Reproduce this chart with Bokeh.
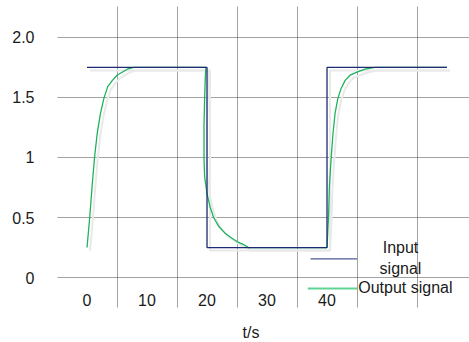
from bokeh.plotting import figure
from bokeh.models import Range1d, FixedTicker, Title
from bokeh.core.properties import value
from bokeh.embed import file_html
from bokeh.resources import INLINE

# ---- data ----
in_t = [0, 20, 20, 40, 40, 60]
in_v = [1.75, 1.75, 0.25, 0.25, 1.75, 1.75]

out_t = [0, 0.45, 0.85, 1.25, 1.7, 2.25, 2.8, 3.45, 4.2, 5.0, 5.85, 6.7, 7.8,
         19.8, 19.7, 19.6, 19.5, 19.5, 19.6, 20.0, 20.5, 21.1, 21.9, 23.0, 24.1, 25.0, 26.1, 26.9,
         40.0, 40.25, 40.4, 40.7, 41.0, 41.35, 41.8, 42.35, 43.0, 43.85, 45.0, 46.35, 48.0, 60]
out_v = [0.25, 0.5, 0.76, 1.0, 1.2, 1.37, 1.49, 1.59, 1.64, 1.685, 1.71, 1.735, 1.75,
         1.75, 1.64, 1.49, 1.26, 1.0, 0.84, 0.70, 0.59, 0.5, 0.43, 0.37, 0.33, 0.30, 0.275, 0.25,
         0.25, 0.5, 0.76, 1.0, 1.2, 1.37, 1.49, 1.575, 1.64, 1.685, 1.71, 1.735, 1.75, 1.75]

x_tick_values = [0, 10, 20, 30, 40]
x_tick_labels = ["0", "10", "20", "30", "40"]
x_grid_values = [5, 15, 25, 35, 45, 55]
y_tick_values = [0, 0.5, 1, 1.5, 2]
y_tick_labels = ["0", "0.5", "1", "1.5", "2.0"]

series_names = ["Input\nsignal", "Output signal"]
x_label = "t/s"

FONT = "Liberation Sans"
NAVY = "#1c2b72"
GREEN = "#1cb35a"
SHADOW = "#e9e9e9"

p = figure(width=469, height=342, output_backend="svg", toolbar_location=None,
           x_range=Range1d(-4.92, 63.75), y_range=Range1d(-0.249, 2.257),
           min_border_left=57, min_border_right=0, min_border_top=6, min_border_bottom=34,
           x_axis_location=None)
p.outline_line_color = None
p.background_fill_color = "white"
p.border_fill_color = "white"

# grid
p.xgrid.ticker = FixedTicker(ticks=x_grid_values)
p.ygrid.ticker = FixedTicker(ticks=y_tick_values)
for g in (p.xgrid, p.ygrid):
    g.grid_line_color = "#444444"
    g.grid_line_dash = "1 1"
    g.grid_line_width = 1

# y axis
ya = p.yaxis[0]
ya.ticker = FixedTicker(ticks=y_tick_values)
ya.major_label_overrides = {v: l for v, l in zip(y_tick_values, y_tick_labels)}
ya.axis_line_color = None
ya.major_tick_line_color = None
ya.minor_tick_line_color = None
ya.major_label_standoff = 17
ya.major_label_text_font = FONT
ya.major_label_text_font_size = "16px"
ya.major_label_text_color = "#1a1a1a"

# shadows
p.line([t + 0.5 for t in out_t], [v - 0.025 for v in out_v], line_color=SHADOW, line_width=2)
p.line([t + 0.5 for t in in_t], [v - 0.025 for v in in_v], line_color=SHADOW, line_width=2)

# series
p.line(out_t, out_v, line_color=GREEN, line_width=1.3)
p.line(in_t, in_v, line_color=NAVY, line_width=1.3)

# x tick labels inside the grid area
p.text(x=x_tick_values, y=[-0.19] * len(x_tick_values), text=x_tick_labels,
       text_font=value(FONT), text_font_size="16px", text_color="#1a1a1a",
       text_align="center", text_baseline="middle")

# legend (manual)
p.segment(x0=[37.25], y0=[0.155], x1=[45.0], y1=[0.155], line_color="#4c5c94", line_width=1.3)
p.segment(x0=[36.8], y0=[-0.091], x1=[45.0], y1=[-0.091], line_color="#5ed394", line_width=2)
p.text(x=[52.25], y=[0.162], text=[series_names[0]], text_font=value(FONT),
       text_font_size="16px", text_color="#1a1a1a", text_align="center",
       text_baseline="middle", text_line_height=1.2)
p.text(x=[45.2], y=[-0.085], text=[series_names[1]], text_font=value(FONT),
       text_font_size="16px", text_color="#1a1a1a", text_align="left",
       text_baseline="middle")

# spacer panel + x axis label (as a title below the frame)
p.add_layout(Title(text=" ", text_font_size="1px", standoff=13), "below")
p.add_layout(Title(text=x_label, align="left", offset=185, text_font=FONT,
                   text_font_size="16px", text_font_style="normal",
                   text_color="#1a1a1a", standoff=0, vertical_align="top"), "below")

open("out.html", "w").write(file_html(p, INLINE))
